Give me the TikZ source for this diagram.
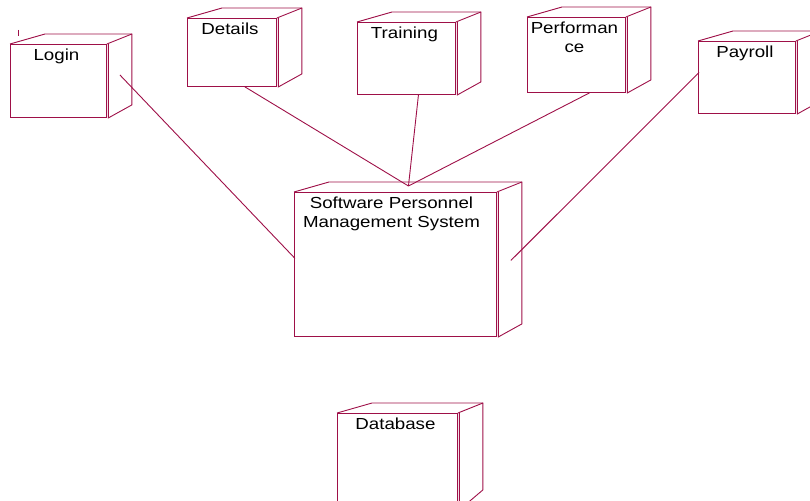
\documentclass[tikz,border=0pt]{standalone}
\usepackage{fontspec}
\setmainfont[FakeStretch=1.17]{Liberation Sans}
\usetikzlibrary{calc}

\definecolor{umlred}{RGB}{158,16,72}

\tikzset{
  uml/.style={draw=umlred, line width=0.9pt},
  unode/.style={uml, rectangle, anchor=north west, inner sep=0pt},
  utext/.style={anchor=north, yshift=-4.5pt, xshift=-2pt, inner sep=0pt,
    align=center, text=black, font=\fontsize{16}{19}\selectfont},
}

% depth of a deployment node
\newcommand{\drawdepth}[2][13]{%
  \draw[uml] (#2.north west) -- ++(35,-10) -- ($(#2.north east)+(25,-10)$)
    -- ($(#2.south east)+(25,-#1)$) -- ($(#2.south east)+(1.5,0)$)
    -- ($(#2.north east)+(1.5,0)$);
  \draw[uml] (#2.north east) -- ++(25,-10);
}

\begin{document}
\begin{tikzpicture}[x=1pt, y=-1pt]

\useasboundingbox (0,0) rectangle (810,500);

% Nodes
\node[unode, minimum width=96pt, minimum height=73pt,
  label={[utext]north:Login}] (login) at (10,44) {};
\node[unode, minimum width=89pt, minimum height=68pt,
  label={[utext]north:Details}] (details) at (187,18) {};
\node[unode, minimum width=98pt, minimum height=72pt,
  label={[utext]north:Training}] (training) at (357,22) {};
\node[unode, minimum width=98pt, minimum height=75pt,
  label={[utext]north:Performan\\ce}] (perf) at (527,17) {};
\node[unode, minimum width=97pt, minimum height=72pt,
  label={[utext]north:Payroll}] (payroll) at (698,41) {};
\node[unode, minimum width=202pt, minimum height=144pt,
  label={[utext, xshift=-2pt]north:Software Personnel\\Management System}] (sys) at (294,192) {};
\node[unode, minimum width=120pt, minimum height=96pt,
  label={[utext]north:Database}] (db) at (337,413) {};

\drawdepth{login}
\drawdepth{details}
\drawdepth{training}
\drawdepth{perf}
\drawdepth{payroll}
\drawdepth{sys}
\drawdepth[20]{db}

\draw[uml] (18,30) -- (18,36);

% Links
\coordinate (hub) at ($(sys.north)+(13,-6)$);
\coordinate (sys-l) at ($(sys.west)+(1,-6)$);
\coordinate (sys-r) at ($(sys.east)+(14,-4)$);
\coordinate (login-p) at ($(login.east)+(13,-6)$);
\coordinate (details-p) at ($(details.south)+(13,0)$);
\coordinate (training-p) at ($(training.south)+(12,0)$);
\coordinate (perf-p) at ($(perf.south)+(13,0)$);
\coordinate (payroll-p) at ($(payroll.west)+(1,-5)$);

\draw[uml] (login-p) -- (sys-l);
\draw[uml] (details-p) -- (hub);
\draw[uml] (training-p) -- (hub);
\draw[uml] (perf-p) -- (hub);
\draw[uml] (payroll-p) -- (sys-r);

\end{tikzpicture}
\end{document}
